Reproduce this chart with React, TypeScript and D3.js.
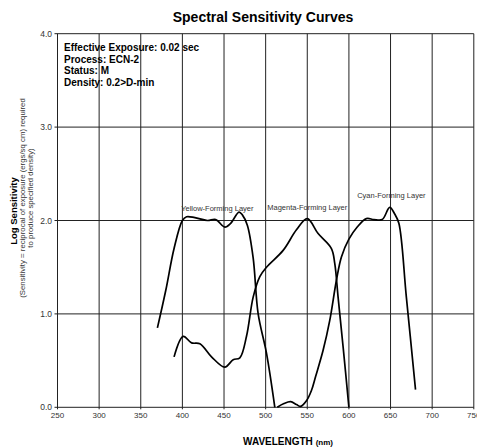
import React from "react";
import * as d3 from "d3";

const xTicks = [250, 300, 350, 400, 450, 500, 550, 600, 650, 700, 750];
const yTicks = [0, 1, 2, 3, 4];

const yellowWl = [370, 380, 390, 400, 405, 415, 430, 440, 451, 458, 468, 472, 478, 485, 491, 501, 511];
const yellowVal = [0.85, 1.25, 1.7, 2.0, 2.04, 2.03, 2.0, 2.01, 1.93, 1.97, 2.09, 2.06, 1.95, 1.6, 1.0, 0.58, 0.0];

const magentaWl = [390, 401, 411, 421, 435, 451, 461, 469, 477, 485, 493, 501, 521, 537, 550, 563, 579, 583, 587, 593, 600];
const magentaVal = [0.54, 0.76, 0.69, 0.68, 0.54, 0.43, 0.51, 0.53, 0.76, 1.18, 1.4, 1.5, 1.68, 1.9, 2.02, 1.86, 1.7, 1.54, 1.18, 0.65, 0.0];

const cyanWl = [514, 522, 530, 537, 542, 549, 555, 560, 569, 577, 585, 591, 600, 610, 621, 630, 640, 649, 655, 660, 669, 680];
const cyanVal = [0.0, 0.04, 0.06, 0.03, 0.01, 0.07, 0.18, 0.33, 0.61, 0.93, 1.36, 1.61, 1.8, 1.93, 2.02, 2.01, 2.01, 2.14, 2.07, 1.97, 1.18, 0.19];

const seriesLabels = [
  { name: "Yellow-Forming Layer", wl: 442, v: 2.1 },
  { name: "Magenta-Forming Layer", wl: 550, v: 2.11 },
  { name: "Cyan-Forming Layer", wl: 651, v: 2.24 },
];

const infoLines = ["Effective Exposure: 0.02 sec", "Process: ECN-2", "Status: M", "Density: 0.2>D-min"];

const FONT = "'Liberation Sans', Arial, Helvetica, sans-serif";

export default function App() {
  const x = d3.scaleLinear().domain([250, 750]).range([57.5, 473.8]);
  const y = d3.scaleLinear().domain([0, 4]).range([407.3, 33.7]);
  const line = d3
    .line<[number, number]>()
    .x((d) => x(d[0]))
    .y((d) => y(d[1]))
    .curve(d3.curveCatmullRom.alpha(0.5));
  const series = [
    d3.zip(yellowWl, yellowVal) as [number, number][],
    d3.zip(magentaWl, magentaVal) as [number, number][],
    d3.zip(cyanWl, cyanVal) as [number, number][],
  ];
  const [x0, x1] = x.range();
  const [y0, y1] = y.range();
  return (
    <svg
      width={477}
      height={448}
      style={{ position: "absolute", left: 0, top: 0, background: "#fff" }}
      fontFamily={FONT}
    >
      <rect x={0} y={0} width={477} height={448} fill="#fff" />
      <text x={263} y={22} textAnchor="middle" fontSize={14} fontWeight="bold" fill="#000">
        Spectral Sensitivity Curves
      </text>
      {/* grid */}
      {xTicks.map((t) => (
        <line key={"gx" + t} x1={x(t)} x2={x(t)} y1={y1} y2={y0 + 2} stroke="#222" strokeWidth={1} />
      ))}
      {yTicks.map((t) => (
        <line key={"gy" + t} x1={x0 - 3} x2={x1} y1={y(t)} y2={y(t)} stroke="#222" strokeWidth={1} />
      ))}
      {/* tick labels */}
      {xTicks.map((t) => (
        <text key={"tx" + t} x={x(t)} y={418} textAnchor="middle" fontSize={8} fill="#333">
          {t}
        </text>
      ))}
      {yTicks.map((t) => (
        <text key={"ty" + t} x={52} y={y(t) + 3} textAnchor="end" fontSize={8.5} fill="#333">
          {t.toFixed(1)}
        </text>
      ))}
      {/* curves */}
      {series.map((s, i) => (
        <path key={"s" + i} d={line(s) || ""} fill="none" stroke="#000" strokeWidth={1.7} />
      ))}
      {/* series labels */}
      {seriesLabels.map((l) => (
        <text key={l.name} x={x(l.wl)} y={y(l.v)} textAnchor="middle" fontSize={7.5} fill="#333">
          {l.name}
        </text>
      ))}
      {/* info text */}
      {infoLines.map((s, i) => (
        <text key={s} x={64} y={51 + i * 11.6} fontSize={10} fontWeight="bold" fill="#000">
          {s}
        </text>
      ))}
      {/* axis titles */}
      <text x={288} y={445} textAnchor="middle" fontWeight="bold" fill="#000">
        <tspan fontSize={10}>WAVELENGTH </tspan>
        <tspan fontSize={8}>(nm)</tspan>
      </text>
      <g transform="translate(17,211) rotate(-90)">
        <text x={0} y={0} textAnchor="middle" fontSize={9.5} fontWeight="bold" fill="#000">
          Log Sensitivity
        </text>
      </g>
      <g transform="translate(25,198) rotate(-90)">
        <text x={0} y={0} textAnchor="middle" fontSize={7.8} fill="#333">
          (Sensitivity = reciprocal of exposure (ergs/sq cm) required
        </text>
      </g>
      <g transform="translate(33,198) rotate(-90)">
        <text x={0} y={0} textAnchor="middle" fontSize={7.8} fill="#333">
          to produce specified density)
        </text>
      </g>
    </svg>
  );
}
